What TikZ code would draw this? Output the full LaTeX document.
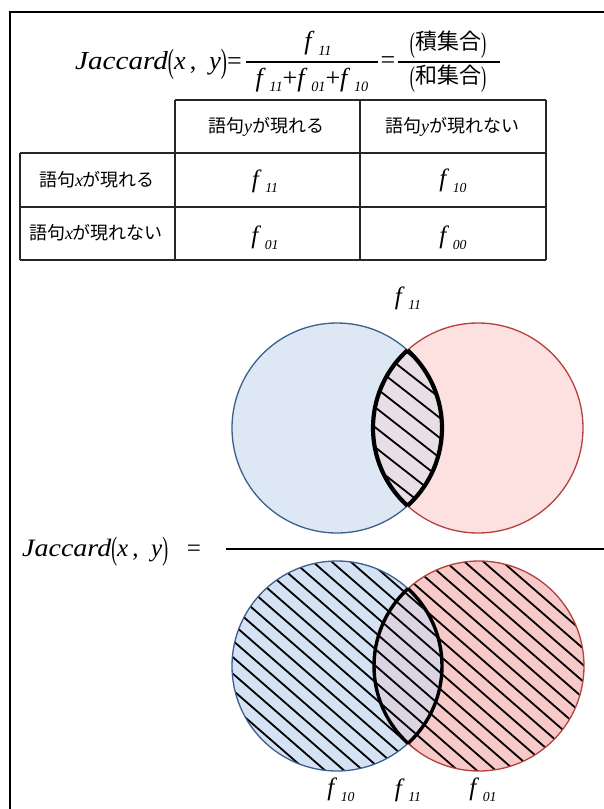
\documentclass[tikz,border=0pt]{standalone}
\usepackage{graphicx}
\usepackage{fontspec}
\setmainfont{Liberation Serif}
\newfontfamily\jp{Noto Sans CJK JP}
\newcommand{\ff}[1]{\textit{f}\hspace{0.14em}\raisebox{-0.22em}{\scalebox{0.55}{\textit{#1}}}}
\newcommand{\lpar}{\raisebox{-0.12em}{\scalebox{0.7}[1.3]{(}}}
\newcommand{\rpar}{\raisebox{-0.12em}{\scalebox{0.7}[1.3]{)}}}
\newcommand{\vx}[1]{\textrm{\textit{#1}}}
\newcommand{\jacc}{\scalebox{1.12}[1]{\textit{Jaccard}}}
\definecolor{blueA}{HTML}{DEE8F5}
\definecolor{pinkA}{HTML}{FDE1E1}
\definecolor{lensA}{HTML}{E8DEE6}
\definecolor{blueB}{HTML}{D5E2F4}
\definecolor{pinkB}{HTML}{F8C9C9}
\definecolor{lensB}{HTML}{DCD3E3}
\definecolor{blueS}{HTML}{3C5F8E}
\definecolor{redS}{HTML}{B5403E}
\begin{document}
\begin{tikzpicture}[x=1pt,y=-1pt,
  big/.style={font=\fontsize{26}{30}\selectfont, inner sep=0pt},
  mid/.style={font=\fontsize{25}{28}\selectfont, inner sep=0pt},
  jtxt/.style={font=\fontsize{18}{21}\selectfont\jp, inner sep=0pt},
  tline/.style={line width=1.1pt, black!85},
  hatch/.style={line width=1.8pt, black},
  lensline/.style={line width=4.2pt, black},
  bluecirc/.style={line width=1.3pt, blueS},
  redcirc/.style={line width=1.3pt, redS}]
\useasboundingbox (0,0) rectangle (604,809);
\fill[white] (0,0) rectangle (604,809);
% border
\draw[line width=2pt] (10,809) -- (10,12) -- (604,12);
% ---------- top formula
\node[big, anchor=base west] (jac) at (75,69) {\jacc\lpar\textit{x}\,,\ \ \textit{y}\rpar=};
\node[big] (num1) at (318,43) {\ff{11}};
\node[big] (den1) at (312,80) {\ff{11}+\ff{01}+\ff{10}};
\draw[line width=1.1pt] (246,62) -- (378,62);
\node[big] (eq2) at (388,63) {=};
\node[font=\fontsize{22}{26}\selectfont, inner sep=0pt] (num2) at (448,45) {\lpar{\jp 積集合}\rpar};
\node[font=\fontsize{22}{26}\selectfont, inner sep=0pt] (den2) at (448,79) {\lpar{\jp 和集合}\rpar};
\draw[line width=1.1pt] (398,62) -- (500,62);
% ---------- table
\draw[tline] (175,100) -- (546,100);
\draw[tline] (20,153) -- (546,153);
\draw[tline] (20,207) -- (546,207);
\draw[tline] (20,260) -- (546,260);
\draw[tline] (20,153) -- (20,260);
\draw[tline] (175,100) -- (175,260);
\draw[tline] (360,100) -- (360,260);
\draw[tline] (546,100) -- (546,260);
\node[jtxt] (h1) at (266,127) {語句\vx{y}が現れる};
\node[jtxt] (h2) at (452,127) {語句\vx{y}が現れない};
\node[jtxt] (r1) at (97,180) {語句\vx{x}が現れる};
\node[jtxt] (r2) at (96,233) {語句\vx{x}が現れない};
\node[mid] (c11) at (265,181) {\ff{11}};
\node[mid] (c10) at (453,181) {\ff{10}};
\node[mid] (c01) at (265,238) {\ff{01}};
\node[mid] (c00) at (453,238) {\ff{00}};
% ---------- top Venn
\fill[blueA] (337,428) circle[radius=105];
\fill[pinkA] (478,428) circle[radius=105];
\begin{scope}
  \clip (337,428) circle[radius=105];
  \clip (478,428) circle[radius=105];
  \fill[lensA] (478,428) circle[radius=105];
  \foreach \b in {270,290,...,530} {
    \draw[hatch] (353,\b) -- (463,\b+86);
  }
\end{scope}
\draw[bluecirc] (337,428) circle[radius=105];
\draw[redcirc] (478,428) circle[radius=105];
\begin{scope}
  \clip (337,428) circle[radius=105];
  \draw[lensline] (478,428) circle[radius=105];
\end{scope}
\begin{scope}
  \clip (478,428) circle[radius=105];
  \draw[lensline] (337,428) circle[radius=105];
\end{scope}
\node[mid] (t11) at (408,298) {\ff{11}};
% ---------- bottom formula
\node[mid, anchor=base west] (jac2) at (22,556) {\jacc\lpar\textit{x}\,,\ \ \textit{y}\rpar\ \ \ =};
\draw[line width=2.2pt] (226,549) -- (604,549);
% ---------- bottom Venn
\fill[blueB] (337,666) circle[radius=105];
\fill[pinkB] (479,666) circle[radius=105];
\begin{scope}
  \clip (337,666) circle[radius=105];
  \clip (479,666) circle[radius=105];
  \fill[lensB] (479,666) circle[radius=105];
\end{scope}
\begin{scope}
  \clip (337,666) circle[radius=105] (479,666) circle[radius=105];
  \foreach \b in {250,266.5,...,790} {
    \draw[hatch] (220,\b) -- (600,\b+330.6);
  }
\end{scope}
\draw[bluecirc] (337,666) circle[radius=105];
\draw[redcirc] (479,666) circle[radius=105];
\begin{scope}
  \clip (337,666) circle[radius=105];
  \draw[lensline, line width=3.4pt] (479,666) circle[radius=105];
\end{scope}
\begin{scope}
  \clip (479,666) circle[radius=105];
  \draw[lensline, line width=3.4pt] (337,666) circle[radius=105];
\end{scope}
\node[mid] (b10) at (341,790) {\ff{10}};
\node[mid] (b11) at (408,790) {\ff{11}};
\node[mid] (b01) at (483,790) {\ff{01}};
\end{tikzpicture}
\end{document}
